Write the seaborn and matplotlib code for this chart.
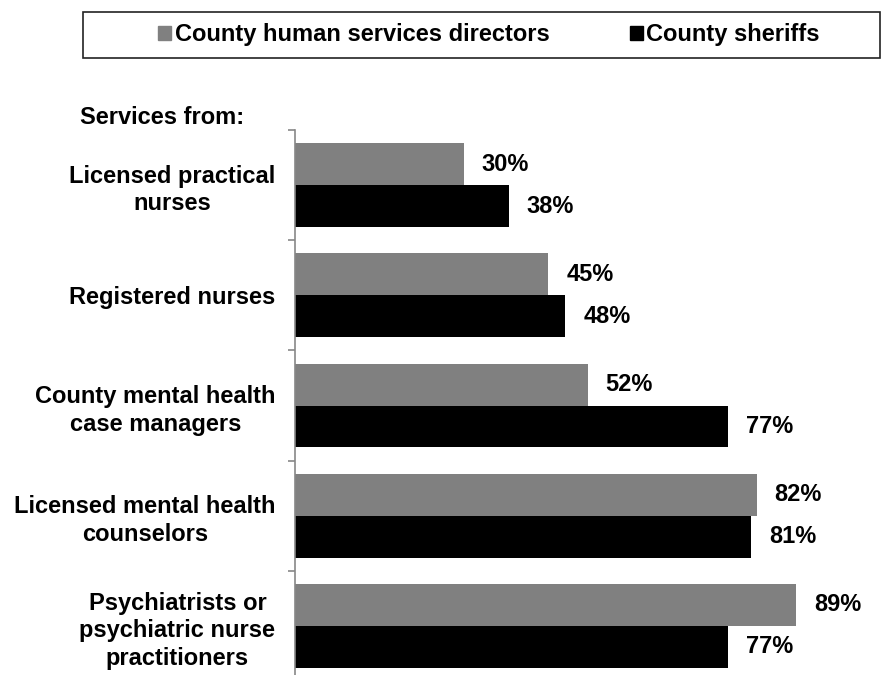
import matplotlib
matplotlib.use("Agg")
import matplotlib.pyplot as plt
from matplotlib.patches import Rectangle, Patch
from matplotlib.ticker import FixedLocator
import pandas as pd
import seaborn as sns

services = ["Licensed practical\nnurses", "Registered nurses",
            "County mental health\ncase managers", "Licensed mental health\ncounselors",
            "Psychiatrists or\npsychiatric nurse\npractitioners"]
directors = [30, 45, 52, 82, 89]
sheriffs = [38, 48, 77, 81, 77]
groups = ["County human services directors", "County sheriffs"]
colors = ["#808080", "#000000"]

df = pd.DataFrame({
    "service": services * 2,
    "pct": directors + sheriffs,
    "group": [groups[0]] * len(services) + [groups[1]] * len(services),
})

sns.set_style("white")
plt.rcParams["font.family"] = ["Liberation Sans", "DejaVu Sans"]
plt.rcParams["font.weight"] = "bold"
plt.rcParams["text.color"] = "black"
plt.rcParams["ytick.color"] = "black"

fig = plt.figure(figsize=(8.83, 6.75), dpi=100)
ax = fig.add_axes([0.334, -0.0089, 0.6376, 0.8163])

sns.barplot(data=df, y="service", x="pct", hue="group", palette=colors,
            orient="h", width=0.76, saturation=1, legend=False, linewidth=0, ax=ax)

for cont in ax.containers:
    ax.bar_label(cont, fmt="%d%%", padding=13, fontsize=17, fontweight="bold", color="black")

ax.set_xlim(0, 100)
ax.set_ylim(len(services) - 0.5, -0.5)
ax.set_xlabel("")
ax.set_ylabel("")
ax.set_xticks([])
for s in ["top", "right", "bottom"]:
    ax.spines[s].set_visible(False)
ax.spines["left"].set_color("#878787")
ax.spines["left"].set_linewidth(1.2)

ax.set_yticks(range(len(services)))
ax.set_yticklabels(services, fontsize=17, fontweight="bold", ma="center", color="black",
                   linespacing=1.25)
ax.tick_params(axis="y", which="major", length=0, pad=14)
ax.yaxis.set_minor_locator(FixedLocator([i - 0.5 for i in range(len(services) + 1)]))
ax.tick_params(axis="y", which="minor", left=True, length=5, width=1.2,
               color="#878787", direction="out")

fig.text(80 / 883, 1 - 117 / 675, "Services from:", fontsize=17, fontweight="bold",
         va="center", ha="left", color="black")

# legend box
fig.patches.append(Rectangle((83 / 883, 1 - 58 / 675), (880 - 83) / 883, 46 / 675,
                             transform=fig.transFigure, fill=False, edgecolor="#222222",
                             linewidth=1.2))
handles = [Patch(facecolor=c, edgecolor=c) for c in colors]
fig.legend(handles, groups, loc="center", bbox_to_anchor=(489 / 883, 1 - 35 / 675),
           ncol=2, frameon=False, handlelength=0.55, handleheight=0.55,
           handletextpad=0.15, columnspacing=3.4, prop={"weight": "bold", "size": 17})

fig.savefig("out.png", dpi=100)
